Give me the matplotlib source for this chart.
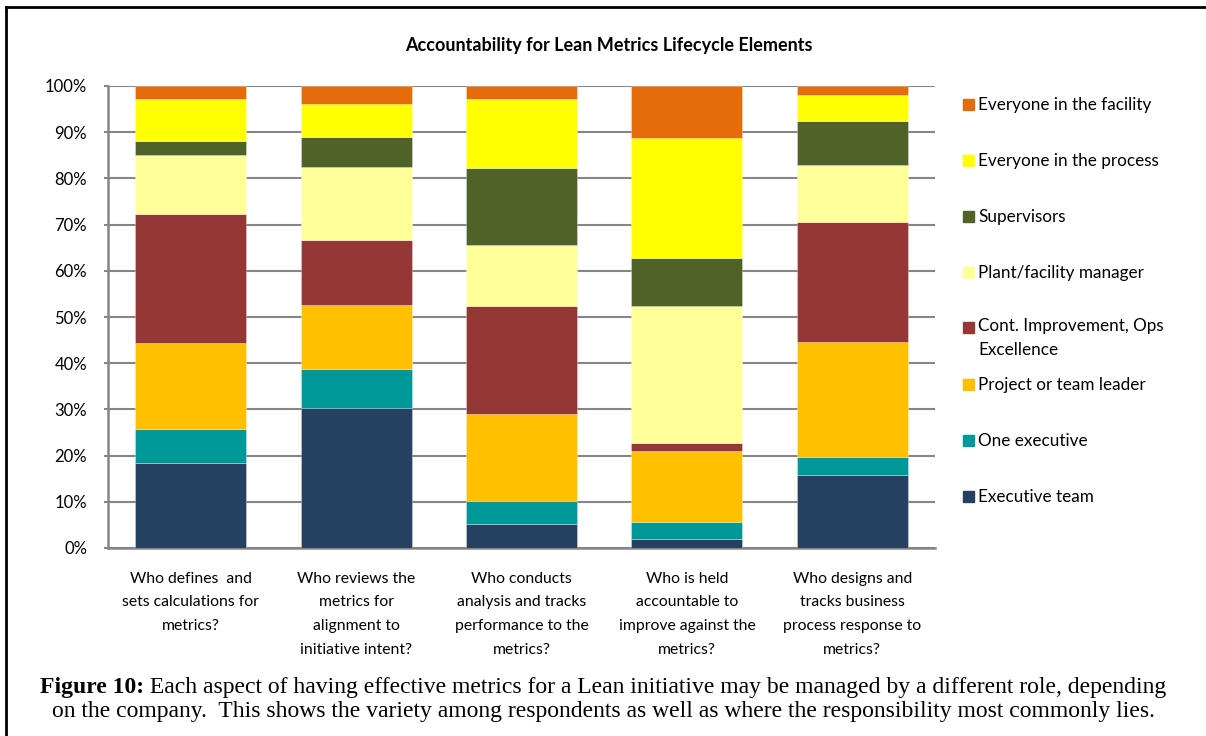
import numpy as np
import matplotlib.pyplot as plt
from matplotlib.lines import Line2D
from matplotlib.patches import Rectangle

plt.rcParams['font.family'] = ['Lato', 'DejaVu Sans']

questions = [
    "Who defines  and\nsets calculations for\nmetrics?",
    "Who reviews the\nmetrics for\nalignment to\ninitiative intent?",
    "Who conducts\nanalysis and tracks\nperformance to the\nmetrics?",
    "Who is held\naccountable to\nimprove against the\nmetrics?",
    "Who designs and\ntracks business\nprocess response to\nmetrics?",
]

# share of respondents (%), stacked from the bottom up
executive_team = [18.3, 30.2, 5.3, 1.9, 15.9]
one_executive = [7.5, 8.6, 4.8, 3.7, 3.8]
project_leader = [18.6, 13.8, 18.8, 15.3, 24.9]
cont_improvement = [27.8, 14.0, 23.4, 1.8, 25.9]
plant_manager = [12.9, 15.9, 13.2, 29.6, 12.3]
supervisors = [2.9, 6.4, 16.7, 10.5, 9.6]
everyone_process = [9.2, 7.3, 15.0, 25.9, 5.7]
everyone_facility = [2.8, 3.8, 2.8, 11.3, 1.9]

series = [
    ("Executive team", executive_team, "#254061"),
    ("One executive", one_executive, "#009999"),
    ("Project or team leader", project_leader, "#FFC000"),
    ("Cont. Improvement, Ops\nExcellence", cont_improvement, "#953735"),
    ("Plant/facility manager", plant_manager, "#FFFF99"),
    ("Supervisors", supervisors, "#4F6228"),
    ("Everyone in the process", everyone_process, "#FFFF00"),
    ("Everyone in the facility", everyone_facility, "#E46C0A"),
]

W, H = 1206, 736
fig = plt.figure(figsize=(W / 100, H / 100), dpi=100)
ax = fig.add_axes([108 / W, 1 - 548 / H, (935 - 108) / W, (548 - 86) / H])

x = np.arange(len(questions))
bottom = np.zeros(len(questions))
for name, vals, color in series:
    vals = np.array(vals) / 100.0
    ax.bar(x, vals, width=0.67, bottom=bottom, color=color,
           edgecolor=(1, 1, 1, 0.35), linewidth=0.6, zorder=3)
    bottom += vals

yt = np.arange(0, 1.01, 0.1)
ax.set_xlim(-0.5, len(questions) - 0.5)
ax.set_ylim(0, 1)
ax.set_yticks(yt)
ax.set_yticklabels([f"{int(round(v * 100))}%" for v in yt], fontsize=12)
ax.set_xticks(x)
ax.set_xticklabels(questions, fontsize=11.3, linespacing=1.88)
ax.tick_params(axis='x', length=0, pad=17)
ax.tick_params(axis='y', length=3, width=1.5, color='#868686', pad=12)

ax.grid(axis='y', color='#868686', linewidth=1.5, zorder=0)
for side in ['top', 'right']:
    ax.spines[side].set_visible(False)
for side in ['left', 'bottom']:
    ax.spines[side].set_color('#868686')
    ax.spines[side].set_linewidth(1.8)

fig.text(609 / W, 1 - 45 / H, "Accountability for Lean Metrics Lifecycle Elements",
         ha='center', va='center', fontsize=13, fontweight='bold')

# legend, top entry first
ys = [105, 161, 217, 273, 328, 385, 441, 497]
for (name, vals, color), yy in zip(series[::-1], ys):
    fig.patches.append(Rectangle((963 / W, 1 - (yy + 5) / H), 11 / W, 11 / H,
                                 transform=fig.transFigure, color=color))
    if '\n' in name:
        fig.text(978 / W, 1 - (yy - 10) / H, name, ha='left', va='top',
                 fontsize=12.3, linespacing=1.6)
    else:
        fig.text(978 / W, 1 - yy / H, name, ha='left', va='center', fontsize=12.3)

# frame edges
fig.add_artist(Line2D([6 / W, 6 / W], [0, 1 - 7 / H], color='black', lw=2))
fig.add_artist(Line2D([6 / W, 1], [1 - 7 / H, 1 - 7 / H], color='black', lw=2))

# caption below the chart
serif = ['Liberation Serif', 'DejaVu Serif']
cap_size = 17
line1 = " Each aspect of having effective metrics for a Lean initiative may be managed by a different role, depending"
line2 = "on the company.  This shows the variety among respondents as well as where the responsibility most commonly lies."

renderer = fig.canvas.get_renderer()
head = fig.text(0, 1 - 687 / H, "Figure 10:", ha='left', va='center',
                family=serif, fontsize=cap_size, fontweight='bold')
body = fig.text(0, 1 - 687 / H, line1, ha='left', va='center',
                family=serif, fontsize=cap_size)
w_head = head.get_window_extent(renderer).width
w_body = body.get_window_extent(renderer).width
x0 = (W - w_head - w_body) / 2
head.set_x(x0 / W)
body.set_x((x0 + w_head) / W)
fig.text(0.5, 1 - 711 / H, line2, ha='center', va='center', family=serif, fontsize=cap_size)

fig.savefig("out.png", dpi=100)
